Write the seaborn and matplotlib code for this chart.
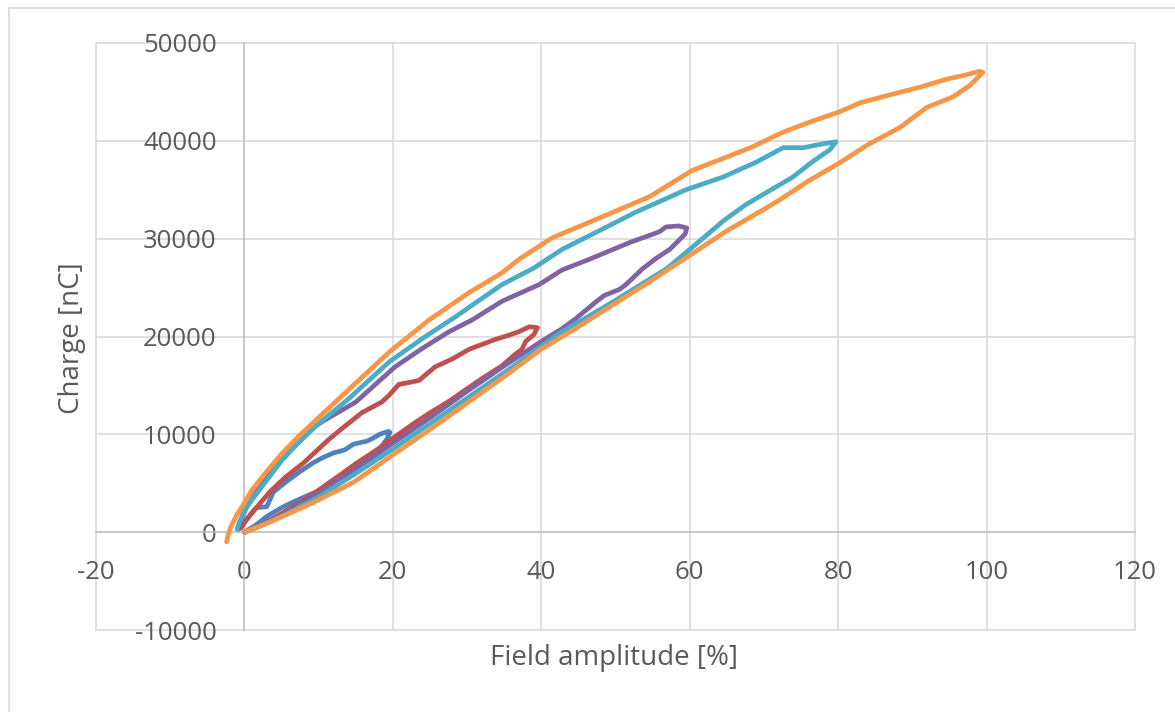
import matplotlib
matplotlib.use("Agg")
import matplotlib.pyplot as plt
from matplotlib.lines import Line2D
import seaborn as sns
import pandas as pd

# ---------------- data ----------------
x_20 = [0, 1.5, 3, 5, 6.6, 9, 11.1, 13, 14.7, 16, 17.4, 18.5, 19.2, 19.6,
        19.4, 18.2, 17.3, 16.5, 14.7, 13.5, 12, 10.5, 9.3, 7.5, 5.7, 3.9, 3, 1.6, 0.8, 0.3, -0.3, -0.8]
y_20 = [0, 700, 1600, 2500, 3100, 3900, 4400, 5300, 6100, 6900, 7800, 8800, 9500, 10200,
        10300, 10000, 9600, 9300, 9000, 8400, 8100, 7600, 7100, 6200, 5200, 4100, 2600, 2500, 1800, 1300, 700, 300]

x_40 = [0, 2, 5, 8, 10, 13, 15, 18, 20, 23, 25, 27.6, 29.7, 32, 34.7, 36.5, 37.4, 37.9, 39, 39.5,
        38.4, 37, 35.5, 33.8, 30.3, 28, 25.7, 23.5, 20.8, 19.5, 18.5, 15.8, 13, 11.4, 8, 5.5, 3.4, 1.5, 0.3, -0.5]
y_40 = [0, 600, 1900, 3300, 4300, 5900, 7000, 8500, 9600, 11200, 12200, 13400, 14500, 15700, 17000, 18200, 18700, 19500, 20200, 20900,
        21000, 20500, 20100, 19700, 18700, 17700, 16900, 15500, 15100, 14000, 13300, 12200, 10500, 9500, 7100, 5600, 4100, 2400, 1300, 400]

x_60 = [0, 2, 5, 10, 15, 20, 25, 30, 35, 40, 42.8, 44.6, 47.3, 48.5, 50.5, 51.4, 53.6, 55.5, 57.3, 58.5, 59.4, 59.6,
        58.5, 56.8, 55.9, 51.9, 46.5, 42.8, 39.7, 34.7, 30.7, 27.6, 24, 20.3, 15, 10.7, 9.5, 5.3, 3, 1, 0.3, -0.3, -0.7]
y_60 = [0, 700, 1700, 4000, 6500, 9100, 11700, 14400, 17000, 19500, 20800, 21800, 23500, 24200, 24800, 25300, 26900, 28000, 28900, 29800, 30500, 31100,
        31300, 31200, 30700, 29600, 27900, 26800, 25300, 23600, 21700, 20500, 18800, 16900, 13300, 11400, 10800, 7700, 5500, 3500, 2600, 1500, 600]

x_80 = [0, 2, 5, 10, 15, 20, 25, 30, 35, 40, 42.4, 46, 50, 53.2, 57, 60, 62.5, 64.5, 67.6, 71.2, 73.9, 76.6, 78.9, 79.7,
        78, 75.3, 72.6, 68.9, 64.5, 59.5, 52.7, 47, 42.8, 39, 34.7, 28.4, 24, 19.5, 14, 10, 7.7, 5, 3, 1, 0, -0.7, -1]
y_80 = [0, 600, 1600, 3600, 6000, 8500, 11100, 13700, 16300, 19000, 20300, 21900, 23700, 25200, 27000, 28900, 30500, 31800, 33500, 35100, 36300, 37900, 39100, 39900,
        39700, 39300, 39300, 37800, 36300, 35000, 32700, 30500, 28900, 27000, 25300, 22000, 19800, 17400, 13600, 11100, 9500, 7300, 5300, 3300, 2200, 1000, 300]

x_100 = [0, 3, 6.6, 10, 14.7, 20, 25, 30, 35, 40, 45, 50, 55, 60, 65, 70, 72.2, 76, 80.3, 84, 88.4, 91.9, 95.5, 97.8, 99.5,
         99, 97, 94.6, 91.1, 87, 83, 80.3, 76.5, 72.6, 68.5, 64.5, 60.4, 54.6, 47.8, 41.5, 37, 34.7, 30.3, 24.9, 19.5, 13.1, 9.7, 7.3, 5, 3, 1, 0, -1, -1.8, -2.2, -2.4]
y_100 = [0, 900, 2100, 3300, 5100, 7900, 10500, 13200, 15900, 18700, 21000, 23400, 25800, 28300, 30800, 33000, 34000, 35900, 37800, 39600, 41400, 43400, 44500, 45700, 47000,
         47100, 46700, 46300, 45500, 44700, 43900, 43000, 42000, 40900, 39400, 38200, 37000, 34300, 32100, 30100, 27900, 26500, 24500, 21700, 18400, 13900, 11500, 9800, 8000, 6200, 4300, 3000, 1800, 600, -300, -1000]

series_names = ["20%", "40%", "60%", "80%", "100%"]
series_x = [x_20, x_40, x_60, x_80, x_100]
series_y = [y_20, y_40, y_60, y_80, y_100]
colors = ["#4F81BD", "#C0504D", "#8064A2", "#4BACC6", "#F79646"]

x_ticks = [-20, 0, 20, 40, 60, 80, 100, 120]
y_ticks = [-10000, 0, 10000, 20000, 30000, 40000, 50000]
x_label = "Field amplitude [%]"
y_label = "Charge [nC]"

# ---------------- build long table ----------------
rows = []
for name, xs, ys in zip(series_names, series_x, series_y):
    for i, (xv, yv) in enumerate(zip(xs, ys)):
        rows.append({"series": name, "order": i, "x": xv, "y": yv})
df = pd.DataFrame(rows)

sns.set_theme(style="white")
plt.rcParams["font.family"] = ["Open Sans", "DejaVu Sans"]
text_color = "#595959"
grid_color = "#D9D9D9"
axis_color = "#BFBFBF"

fig = plt.figure(figsize=(11.75, 7.12), dpi=100)
ax = fig.add_axes([96 / 1175, 1 - 630 / 712, 1039 / 1175, 587 / 712])

# chart outer border (Excel chart area)
fig.add_artist(Line2D([9 / 1175, 9 / 1175], [0, 1 - 8 / 712], transform=fig.transFigure,
                      color=grid_color, lw=1.2))
fig.add_artist(Line2D([9 / 1175, 1], [1 - 8 / 712, 1 - 8 / 712], transform=fig.transFigure,
                      color=grid_color, lw=1.2))

ax.set_xlim(x_ticks[0], x_ticks[-1])
ax.set_ylim(y_ticks[0], y_ticks[-1])

for xv in x_ticks:
    if xv != 0:
        ax.axvline(xv, color=grid_color, lw=1.2, zorder=0, clip_on=False)
for yv in y_ticks:
    if yv != 0:
        ax.axhline(yv, color=grid_color, lw=1.2, zorder=0, clip_on=False)

sns.lineplot(data=df, x="x", y="y", hue="series", palette=dict(zip(series_names, colors)),
             hue_order=series_names, sort=False, estimator=None, legend=False,
             lw=3.4, ax=ax, solid_joinstyle="round", solid_capstyle="round", zorder=3)

for s in ["top", "right"]:
    ax.spines[s].set_visible(False)
ax.spines["left"].set_position(("data", 0))
ax.spines["bottom"].set_position(("data", 0))
for s in ["left", "bottom"]:
    ax.spines[s].set_color(axis_color)
    ax.spines[s].set_linewidth(1.2)
    ax.spines[s].set_zorder(1)

ax.set_xticks(x_ticks)
ax.set_yticks(y_ticks)
ax.set_xticklabels([str(v) for v in x_ticks])
ax.set_yticklabels([str(v) for v in y_ticks])
ax.tick_params(axis="x", length=0, pad=20, labelsize=18.5, labelcolor=text_color)
ax.tick_params(axis="y", length=0, pad=20, labelsize=18.5, labelcolor=text_color)

ax.set_xlabel(x_label, fontsize=20, color=text_color, va="center")
ax.set_ylabel(y_label, fontsize=20, color=text_color, va="center")
ax.xaxis.set_label_coords((614 - 96) / 1039, (630 - 658) / 587)
ax.yaxis.set_label_coords((72 - 96) / 1039, (630 - 338) / 587)

fig.savefig("out.png", dpi=100, facecolor="white")
